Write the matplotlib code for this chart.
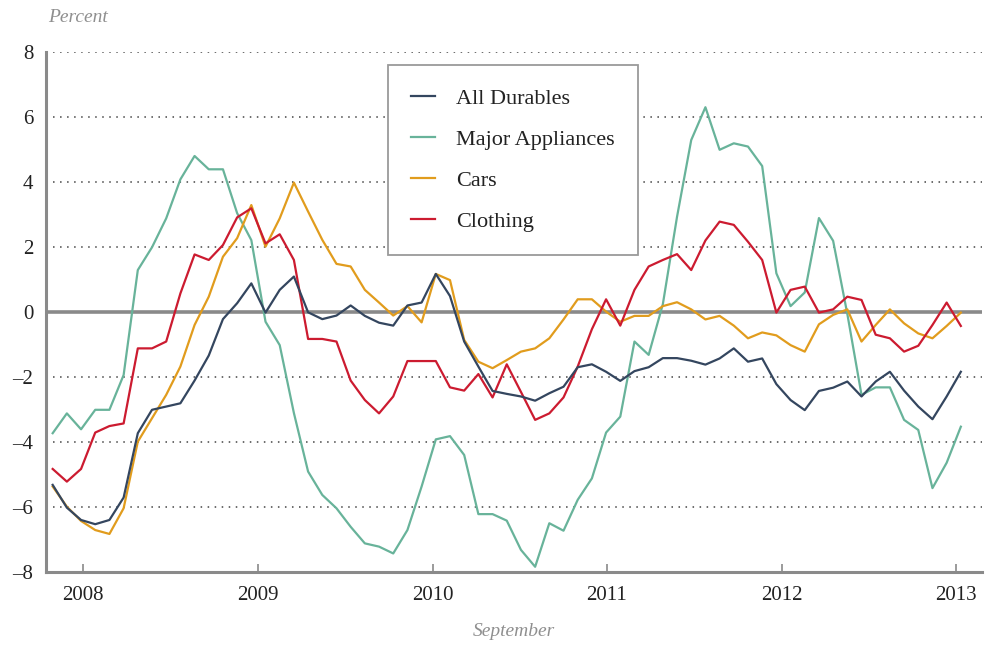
## Year-over-year price change for durable goods, clothing etc.
import numpy as np
import matplotlib
matplotlib.use('Agg')
import matplotlib.pyplot as plt

## data (percent), one value per period
all_durables = [-5.31, -6.01, -6.39, -6.52, -6.39, -5.70, -3.72, -3.00, -2.90, -2.80,
                -2.10, -1.33, -0.21, 0.28, 0.89, -0.01, 0.69, 1.10, 0.00, -0.21,
                -0.10, 0.21, -0.11, -0.32, -0.41, 0.21, 0.30, 1.18, 0.50, -0.90,
                -1.67, -2.42, -2.51, -2.59, -2.72, -2.49, -2.29, -1.69, -1.60, -1.83,
                -2.11, -1.81, -1.69, -1.41, -1.41, -1.49, -1.61, -1.42, -1.11, -1.52,
                -1.42, -2.21, -2.70, -3.01, -2.42, -2.32, -2.13, -2.59, -2.13, -1.83,
                -2.41, -2.90, -3.29, -2.59, -1.83]
appliances = [-3.72, -3.11, -3.60, -3.00, -3.00, -1.93, 1.30, 2.00, 2.89, 4.09,
              4.81, 4.40, 4.40, 3.05, 2.22, -0.29, -1.01, -3.10, -4.90, -5.62,
              -6.03, -6.60, -7.11, -7.21, -7.42, -6.70, -5.36, -3.91, -3.81, -4.39,
              -6.21, -6.21, -6.41, -7.31, -7.83, -6.49, -6.72, -5.77, -5.11, -3.70,
              -3.21, -0.90, -1.31, 0.25, 2.94, 5.30, 6.31, 5.00, 5.20, 5.10,
              4.50, 1.20, 0.19, 0.61, 2.90, 2.20, -0.05, -2.54, -2.31, -2.31,
              -3.31, -3.62, -5.41, -4.63, -3.52]
cars = [-5.36, -5.98, -6.42, -6.70, -6.82, -6.03, -3.98, -3.26, -2.54, -1.67,
        -0.39, 0.48, 1.71, 2.28, 3.30, 2.02, 2.89, 3.99, 3.10, 2.23,
        1.49, 1.41, 0.69, 0.30, -0.10, 0.19, -0.31, 1.18, 0.99, -0.85,
        -1.52, -1.72, -1.47, -1.21, -1.11, -0.80, -0.22, 0.40, 0.40, 0.02,
        -0.29, -0.11, -0.11, 0.19, 0.31, 0.09, -0.22, -0.11, -0.41, -0.80,
        -0.62, -0.71, -1.01, -1.21, -0.37, -0.08, 0.09, -0.90, -0.39, 0.09,
        -0.34, -0.65, -0.80, -0.42, -0.01]
clothing = [-4.82, -5.21, -4.82, -3.70, -3.50, -3.42, -1.11, -1.11, -0.90, 0.58,
            1.78, 1.61, 2.07, 2.92, 3.20, 2.12, 2.40, 1.61, -0.82, -0.82,
            -0.90, -2.10, -2.70, -3.11, -2.59, -1.50, -1.50, -1.50, -2.31, -2.41,
            -1.90, -2.62, -1.60, -2.45, -3.31, -3.11, -2.62, -1.67, -0.52, 0.40,
            -0.41, 0.69, 1.41, 1.61, 1.79, 1.30, 2.21, 2.79, 2.69, 2.17,
            1.61, -0.01, 0.69, 0.79, -0.01, 0.09, 0.48, 0.38, -0.69, -0.80,
            -1.21, -1.03, -0.39, 0.30, -0.42]

years = ['2008', '2009', '2010', '2011', '2012', '2013']
year_pos = [2.16, 14.49, 26.78, 39.04, 51.37, 63.66]   # where the year ticks sit on the period axis
yticks = [-8, -6, -4, -2, 0, 2, 4, 6, 8]

x = np.arange(len(all_durables))

plt.rcParams['font.family'] = ['Liberation Serif', 'DejaVu Serif']

fig = plt.figure(figsize=(9.85, 6.46), dpi=100)
fig.patch.set_facecolor('white')
ax = fig.add_axes([46/985, 1-572.3/646, (981.7-46)/985, (572.3-52.3)/646])

# dotted grid
for yv in yticks:
    if yv in (0, -8):
        continue
    ax.axhline(yv, color='#444444', lw=1.1, ls=(0, (1, 3.6)), zorder=1)
ax.axhline(0, color='#8a8a8a', lw=2.6, zorder=2)

ax.plot(x, all_durables, color='#34465f', lw=1.6, label='All Durables', zorder=5)
ax.plot(x, appliances, color='#68b39a', lw=1.6, label='Major Appliances', zorder=3)
ax.plot(x, cars, color='#e19c1d', lw=1.6, label='Cars', zorder=4)
ax.plot(x, clothing, color='#cc1b30', lw=1.6, label='Clothing', zorder=4)

ax.set_xlim(-0.47, 65.47)
ax.set_ylim(-8, 8)

for s in ['top', 'right']:
    ax.spines[s].set_visible(False)
for s in ['left', 'bottom']:
    ax.spines[s].set_color('#8a8a8a')
    ax.spines[s].set_linewidth(2.2)

ax.set_yticks(yticks)
ax.set_yticklabels([str(v).replace('-', '\u2013') for v in yticks])
ax.tick_params(axis='y', length=0, pad=9, labelsize=15, labelcolor='#222222')
ax.set_xticks(year_pos)
ax.set_xticklabels(years)
ax.tick_params(axis='x', direction='in', length=6, width=1.2, color='#8a8a8a',
               pad=10, labelsize=15, labelcolor='#222222')

leg = ax.legend(loc='upper left', bbox_to_anchor=(0.3655, 0.9756), borderaxespad=0,
                fontsize=16, frameon=True, fancybox=False, handlelength=1.05,
                handletextpad=0.95, labelspacing=0.92, borderpad=1.05)
leg.get_frame().set_edgecolor('#9a9a9a')
leg.get_frame().set_linewidth(1.3)
leg.get_frame().set_alpha(1)
for t in leg.get_texts():
    t.set_color('#222222')

fig.text(48/985, 1-18/646, 'Percent', ha='left', va='center', style='italic',
         fontsize=14, color='#8f8f8f')
fig.text(514/985, 1-632/646, 'September', ha='center', va='center', style='italic',
         fontsize=14, color='#8f8f8f')

fig.savefig('out.png', dpi=100)
